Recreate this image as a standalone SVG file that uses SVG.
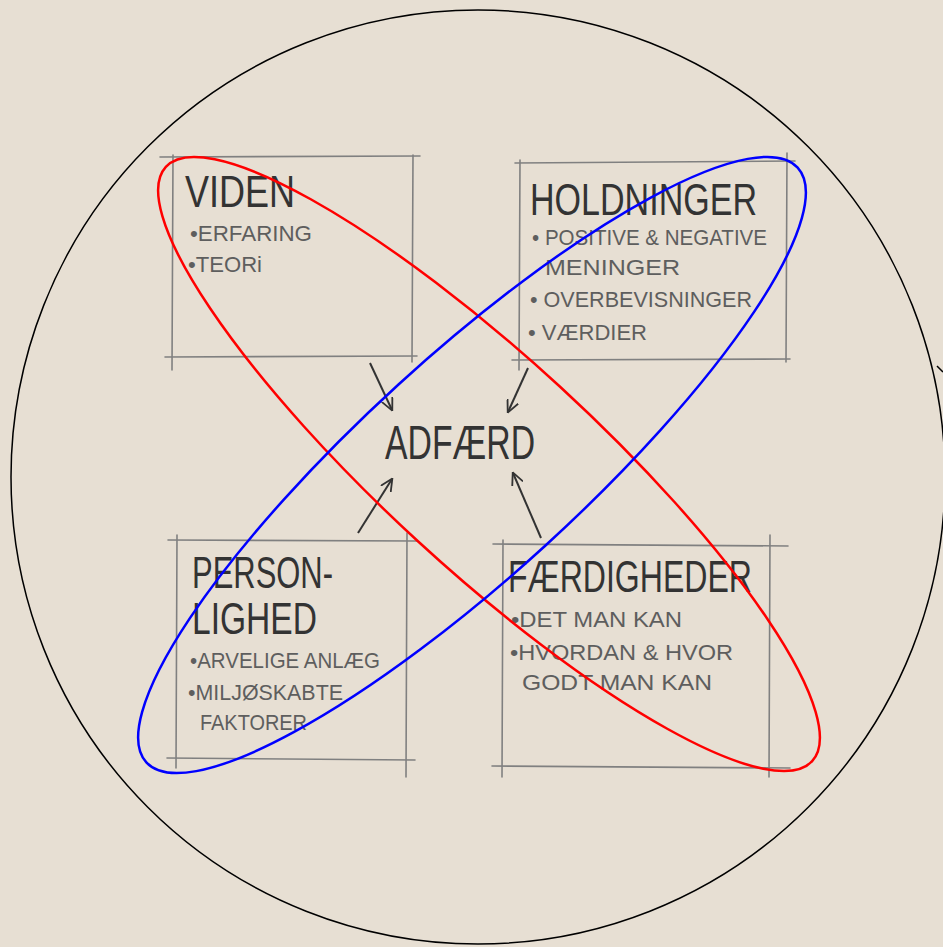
<svg xmlns="http://www.w3.org/2000/svg" width="943" height="947" viewBox="0 0 943 947">
<defs>
<style>
.box line{stroke:#808080;stroke-width:1.6;stroke-linecap:round}
.title{font-family:"Liberation Sans","DejaVu Sans",sans-serif;fill:#333;font-weight:normal}
.item{font-family:"Liberation Sans","DejaVu Sans",sans-serif;fill:#5e5e5e;font-size:22px}
.conn{stroke:#333;stroke-width:2;fill:none;marker-end:url(#ah)}
</style>
<marker id="ah" viewBox="0 0 10 10" refX="9" refY="5" markerWidth="13" markerHeight="13" markerUnits="userSpaceOnUse" orient="auto">
<path d="M0,0.5 L9.5,5 L0,9.5" fill="none" stroke="#333" stroke-width="1.4"/>
</marker>
</defs>
<rect x="0" y="0" width="943" height="947" fill="#e7dfd3"/>
<circle cx="478" cy="477" r="467" fill="none" stroke="#000" stroke-width="1.5"/>
<path d="M937,366 L943,372" stroke="#000" stroke-width="1.5"/>

<g id="viden" class="box">
<line x1="160" y1="157" x2="420" y2="156"/>
<line x1="165" y1="357" x2="417" y2="356"/>
<line x1="173" y1="155" x2="172" y2="370"/>
<line x1="413" y1="155" x2="412" y2="362"/>
<text class="title" x="185" y="207" font-size="44" textLength="110" lengthAdjust="spacingAndGlyphs">VIDEN</text>
<text class="item" x="190" y="241" textLength="122" lengthAdjust="spacingAndGlyphs">•ERFARING</text>
<text class="item" x="188" y="272" textLength="74" lengthAdjust="spacingAndGlyphs">•TEORi</text>
</g>

<g id="holdninger" class="box">
<line x1="515" y1="163" x2="795" y2="161"/>
<line x1="512" y1="360" x2="790" y2="359"/>
<line x1="520" y1="160" x2="519" y2="370"/>
<line x1="787" y1="153" x2="786" y2="362"/>
<text class="title" x="530" y="215" font-size="44" textLength="227" lengthAdjust="spacingAndGlyphs">HOLDNINGER</text>
<text class="item" x="532" y="245" textLength="235" lengthAdjust="spacingAndGlyphs">• POSITIVE &amp; NEGATIVE</text>
<text class="item" x="545" y="275" textLength="135" lengthAdjust="spacingAndGlyphs">MENINGER</text>
<text class="item" x="530" y="307" textLength="222" lengthAdjust="spacingAndGlyphs">• OVERBEVISNINGER</text>
<text class="item" x="528" y="340" textLength="119" lengthAdjust="spacingAndGlyphs">• VÆRDIER</text>
</g>

<g id="personlighed" class="box">
<line x1="168" y1="540" x2="417" y2="541"/>
<line x1="167" y1="758" x2="415" y2="760"/>
<line x1="177" y1="535" x2="176" y2="768"/>
<line x1="407" y1="533" x2="406" y2="777"/>
<text class="title" x="192" y="588" font-size="44" textLength="141" lengthAdjust="spacingAndGlyphs">PERSON-</text>
<text class="title" x="192" y="634" font-size="44" textLength="125" lengthAdjust="spacingAndGlyphs">LIGHED</text>
<text class="item" x="190" y="668" textLength="190" lengthAdjust="spacingAndGlyphs">•ARVELIGE ANLÆG</text>
<text class="item" x="188" y="700" textLength="155" lengthAdjust="spacingAndGlyphs">•MILJØSKABTE</text>
<text class="item" x="200" y="730" textLength="107" lengthAdjust="spacingAndGlyphs">FAKTORER</text>
</g>

<g id="faerdigheder" class="box">
<line x1="493" y1="544" x2="788" y2="546"/>
<line x1="492" y1="766" x2="790" y2="768"/>
<line x1="503" y1="540" x2="502" y2="777"/>
<line x1="770" y1="535" x2="769" y2="777"/>
<text class="title" x="508" y="592" font-size="44" textLength="244" lengthAdjust="spacingAndGlyphs">FÆRDIGHEDER</text>
<text class="item" x="511" y="627" textLength="171" lengthAdjust="spacingAndGlyphs">•DET MAN KAN</text>
<text class="item" x="510" y="660" textLength="223" lengthAdjust="spacingAndGlyphs">•HVORDAN &amp; HVOR</text>
<text class="item" x="522" y="690" textLength="190" lengthAdjust="spacingAndGlyphs">GODT MAN KAN</text>
</g>

<g id="adfaerd">
<text class="title" x="385" y="459" font-size="48" textLength="150" lengthAdjust="spacingAndGlyphs">ADFÆRD</text>
</g>

<g id="connectors">
<line class="conn" x1="370" y1="363" x2="392" y2="410"/>
<line class="conn" x1="528" y1="368" x2="508" y2="412"/>
<line class="conn" x1="358" y1="533" x2="392" y2="479"/>
<line class="conn" x1="541" y1="538" x2="513" y2="473"/>
</g>

<g id="ellipses" fill="none" stroke-width="2.5">
<ellipse cx="489" cy="464" rx="439" ry="105" transform="rotate(42.6 489 464)" stroke="#ff0000"/>
<ellipse cx="472" cy="465" rx="441" ry="109" transform="rotate(-42.4 472 465)" stroke="#0000ff"/>
</g>
</svg>
